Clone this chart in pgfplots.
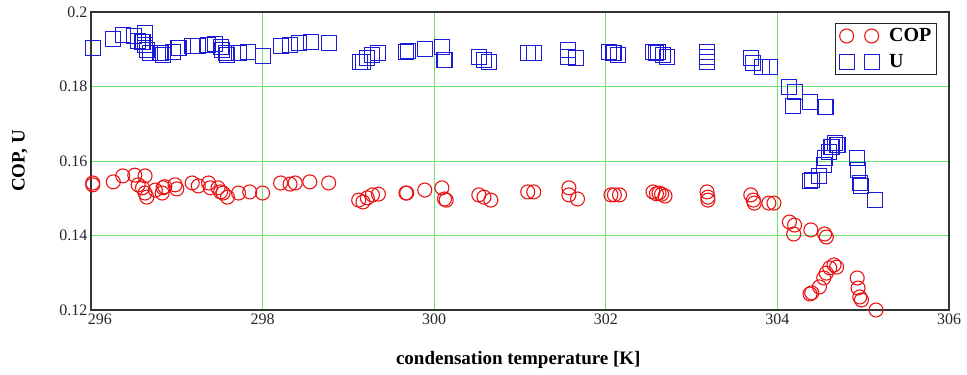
\documentclass[border=0pt]{standalone}
\usepackage{pgfplots}
\pgfplotsset{compat=1.18}
\usepackage{fontspec}
\setmainfont{Liberation Serif}
\definecolor{gridgreen}{RGB}{110,230,110}
\definecolor{copred}{RGB}{235,20,20}
\definecolor{ublue}{RGB}{25,25,215}
\begin{document}
\begin{tikzpicture}
\begin{axis}[
  scale only axis,
  width=858pt, height=298pt,
  xmin=296, xmax=306, ymin=0.12, ymax=0.2,
  xtick={296,298,300,302,304,306},
  xticklabels={\hspace{18pt}296,298,300,302,304,306},
  ytick={0.12,0.14,0.16,0.18,0.2},
  yticklabels={0.12,0.14,0.16,0.18,0.2},
  /pgf/number format/assume math mode=true,
  tick label style={font=\fontsize{16}{18}\selectfont, color=black!85},
  major tick length=0pt,
  grid=major,
  major grid style={draw=gridgreen, line width=0.9pt},
  axis line style={draw=black!80, line width=1.3pt},
  xlabel={\textbf{condensation temperature [K]}},
  ylabel={\textbf{COP, U}},
  xlabel style={at={(axis description cs:0.498,-0.168)}, anchor=center, font=\fontsize{19}{22}\selectfont},
  ylabel style={at={(axis description cs:-0.083,0.5)}, anchor=center, font=\fontsize{19}{22}\selectfont},
  legend style={at={(rel axis cs:0.986,0.963)}, anchor=north east, draw=black!85, line width=1.2pt,
    font=\fontsize{20}{22}\selectfont\bfseries, inner xsep=4pt, inner ysep=5pt, row sep=11pt,
    nodes={inner xsep=1pt, inner ysep=0pt}},
  legend cell align=left,
]
\addplot[only marks, mark=o, draw=copred, mark size=7pt, line width=1.1pt,
  legend image code/.code={\draw[copred, line width=1.1pt, mark=o, mark size=7pt] plot[only marks] coordinates {(0pt,0pt) (25pt,0pt)};}]
coordinates {
(296.02,0.1541)(296.02,0.1536)(296.26,0.1544)(296.37,0.1560)(296.51,0.1562)(296.63,0.1560)
(296.55,0.1536)(296.60,0.1528)(296.63,0.1514)(296.65,0.1503)(296.75,0.1522)(296.83,0.1514)
(296.84,0.1528)(296.86,0.1531)(296.98,0.1536)(297.00,0.1525)(297.18,0.1541)(297.25,0.1533)
(297.37,0.1541)(297.39,0.1528)(297.48,0.1528)(297.51,0.1517)(297.54,0.1514)(297.59,0.1503)
(297.72,0.1514)(297.85,0.1517)(298.00,0.1514)(298.21,0.1541)(298.32,0.1538)(298.38,0.1541)
(298.55,0.1544)(298.77,0.1541)
(299.12,0.1495)(299.17,0.1490)(299.22,0.1501)(299.28,0.1509)(299.35,0.1511)
(299.67,0.1514)(299.68,0.1514)(299.89,0.1522)(300.09,0.1528)(300.12,0.1498)(300.14,0.1495)
(300.52,0.1509)(300.58,0.1503)(300.66,0.1495)(301.09,0.1517)(301.16,0.1517)
(301.57,0.1528)(301.57,0.1509)(301.67,0.1498)(302.06,0.1509)(302.10,0.1509)(302.16,0.1509)
(302.55,0.1517)(302.59,0.1512)(302.62,0.1514)(302.65,0.1511)(302.69,0.1506)
(303.18,0.1517)(303.19,0.1503)(303.19,0.1495)(303.69,0.1509)(303.72,0.1495)(303.73,0.1487)
(303.90,0.1487)(303.96,0.1487)
(304.14,0.1436)(304.20,0.1428)(304.19,0.1404)(304.39,0.1415)(304.55,0.1404)(304.57,0.1396)
(304.38,0.1243)(304.40,0.1246)(304.49,0.1262)(304.54,0.1286)(304.57,0.1299)(304.61,0.1313)
(304.66,0.1321)(304.69,0.1315)(304.93,0.1286)(304.94,0.1259)(304.96,0.1235)(304.98,0.1227)
(305.15,0.1200)
};
\addlegendentry{\hspace{9pt}COP}
\addplot[only marks, mark=square, draw=ublue, mark size=7.5pt, line width=1.1pt,
  legend image code/.code={\draw[ublue, line width=1.1pt, mark=square, mark size=7.5pt] plot[only marks] coordinates {(0pt,0pt) (25pt,0pt)};}]
coordinates {
(296.02,0.1903)(296.26,0.1928)(296.37,0.1938)(296.50,0.1936)(296.63,0.1944)(296.55,0.1922)
(296.60,0.1919)(296.63,0.1911)(296.65,0.1898)(296.69,0.1890)(296.81,0.1890)(296.84,0.1885)
(296.96,0.1893)(297.02,0.1903)(297.18,0.1909)(297.25,0.1909)(297.36,0.1911)(297.45,0.1914)
(297.51,0.1906)(297.53,0.1898)(297.57,0.1890)(297.59,0.1885)(297.72,0.1890)(297.83,0.1893)
(298.00,0.1882)(298.21,0.1909)(298.32,0.1911)(298.42,0.1917)(298.56,0.1919)(298.77,0.1917)
(299.13,0.1866)(299.17,0.1866)(299.22,0.1877)(299.28,0.1885)(299.35,0.1890)
(299.67,0.1893)(299.69,0.1896)(299.89,0.1901)(300.09,0.1906)(300.12,0.1871)
(300.52,0.1879)(300.58,0.1871)(300.64,0.1866)(301.09,0.1890)(301.16,0.1890)
(301.56,0.1898)(301.56,0.1879)(301.65,0.1877)(302.04,0.1893)(302.09,0.1890)(302.14,0.1885)
(302.55,0.1893)(302.59,0.1890)(302.61,0.1893)(302.67,0.1885)(302.71,0.1879)
(303.18,0.1893)(303.18,0.1879)(303.18,0.1866)(303.69,0.1877)(303.72,0.1863)
(303.82,0.1852)(303.91,0.1852)
(304.14,0.1799)(304.20,0.1785)(304.18,0.1748)(304.38,0.1758)(304.56,0.1745)
(304.38,0.1546)(304.40,0.1550)(304.49,0.1560)(304.54,0.1589)(304.55,0.1608)(304.60,0.1624)
(304.63,0.1638)(304.67,0.1648)(304.70,0.1643)(304.93,0.1608)(304.94,0.1576)(304.96,0.1541)
(304.97,0.1533)(305.14,0.1495)
};
\addlegendentry{\hspace{9pt}U}
\end{axis}
\path (current axis.south west) ++(-91pt,-65pt) rectangle ++(967pt,375pt);
\end{tikzpicture}
\end{document}
